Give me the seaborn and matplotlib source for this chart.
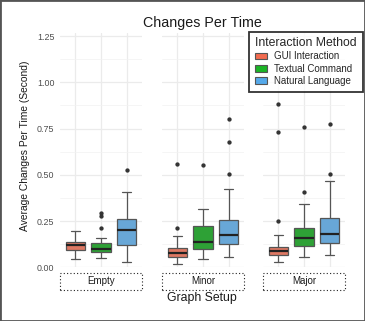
import pandas as pd
import matplotlib.pyplot as plt
import seaborn as sns
from matplotlib.patches import Rectangle, Patch

# ------------------------------------------------------------
# Dados
# ------------------------------------------------------------
setups = ["Empty", "Minor", "Major"]
methods = ["GUI Interaction", "Textual Command", "Natural Language"]
colors = ["#F26B4F", "#1BB426", "#55A9EA"]

empty_gui = [0.045, 0.07, 0.092, 0.105, 0.119, 0.13, 0.138, 0.16, 0.198]
empty_text = [0.049, 0.062, 0.075, 0.080, 0.085, 0.09, 0.094, 0.097, 0.099,
              0.105, 0.115, 0.125, 0.132, 0.16, 0.212, 0.277, 0.292]
empty_nl = [0.03, 0.08, 0.122, 0.165, 0.20, 0.235, 0.263, 0.405, 0.524]

minor_gui = [0.02, 0.04, 0.05, 0.057, 0.065, 0.072, 0.079, 0.088, 0.096,
             0.104, 0.169, 0.214, 0.558]
minor_text = [0.047, 0.075, 0.097, 0.115, 0.135, 0.18, 0.223, 0.313, 0.555]
minor_nl = [0.054, 0.08, 0.10, 0.115, 0.124, 0.14, 0.155, 0.165, 0.175,
            0.20, 0.225, 0.24, 0.254, 0.421, 0.504, 0.676, 0.80]

major_gui = [0.03, 0.045, 0.055, 0.062, 0.066, 0.072, 0.078, 0.084, 0.088,
             0.094, 0.10, 0.106, 0.111, 0.173, 0.25, 0.733, 0.883]
major_text = [0.057, 0.085, 0.10, 0.115, 0.13, 0.145, 0.157, 0.175, 0.195,
              0.212, 0.342, 0.409, 0.757]
major_nl = [0.066, 0.095, 0.115, 0.131, 0.15, 0.165, 0.18, 0.21, 0.24,
            0.268, 0.466, 0.506, 0.775]

grupos = {
    "Empty": [empty_gui, empty_text, empty_nl],
    "Minor": [minor_gui, minor_text, minor_nl],
    "Major": [major_gui, major_text, major_nl],
}

linhas = []
for setup in setups:
    for metodo, valores in zip(methods, grupos[setup]):
        for v in valores:
            linhas.append({"setup": setup, "method": metodo, "value": v})
df = pd.DataFrame(linhas)

# ------------------------------------------------------------
# Figura
# ------------------------------------------------------------
sns.set_style("white")
plt.rcParams["font.family"] = ["Liberation Sans", "DejaVu Sans"]

W, H = 365, 321
fig = plt.figure(figsize=(W / 100, H / 100), dpi=100)

lefts = [60, 162, 263]
pw = 82
y_top, y_bot = 33.3, 267.3
palette = dict(zip(methods, colors))

for i, setup in enumerate(setups):
    ax = fig.add_axes([lefts[i] / W, 1 - y_bot / H, pw / W, (y_bot - y_top) / H])
    sub = df[df["setup"] == setup]
    sns.boxplot(data=sub, x="method", y="value", hue="method", order=methods,
                hue_order=methods, palette=palette, width=0.75, linewidth=0.9,
                linecolor="#555555", legend=False, ax=ax,
                medianprops=dict(color="#222222", linewidth=1.6),
                flierprops=dict(marker="o", markersize=2.1, markerfacecolor="#333333",
                                markeredgecolor="#333333"))
    ax.set_xlim(-0.6, 2.6)
    ax.set_ylim(0, 1.265)
    ax.set_yticks([0, 0.25, 0.5, 0.75, 1.0, 1.25])
    ax.set_yticks([0.125, 0.375, 0.625, 0.875, 1.125], minor=True)
    ax.grid(True, which="major", color="#EBEBEB", linewidth=0.9, zorder=0)
    ax.grid(True, which="minor", axis="y", color="#F2F2F2", linewidth=0.5, zorder=0)
    ax.set_axisbelow(True)
    for s in ax.spines.values():
        s.set_visible(False)
    ax.set_xticklabels([])
    ax.set_xlabel("")
    ax.set_ylabel("")
    ax.tick_params(length=0, which="both")
    if i == 0:
        ax.set_yticklabels(["0.00", "0.25", "0.50", "0.75", "1.00", "1.25"],
                           fontsize=6.4, color="#4D4D4D")
        ax.tick_params(axis="y", pad=4)
    else:
        ax.set_yticklabels([])

    # faixa inferior com borda pontilhada
    sh = 17 / (y_bot - y_top)
    gap = 5.7 / (y_bot - y_top)
    ax.add_patch(Rectangle((0, -gap - sh), 1, sh, transform=ax.transAxes,
                           fill=False, edgecolor="#222222", linewidth=0.8,
                           linestyle=(0, (1, 2)), clip_on=False))
    ax.text(0.5, -gap - sh / 2, setup, transform=ax.transAxes, ha="center",
            va="center", fontsize=7.0, color="#1A1A1A")

fig.text(202 / W, 1 - 23 / H, "Changes Per Time", ha="center", va="center",
         fontsize=10.3, color="#1A1A1A")
fig.text(202 / W, 1 - 297.5 / H, "Graph Setup", ha="center", va="center",
         fontsize=8.8, color="#1A1A1A")
fig.text(25 / W, 1 - 146 / H, "Average Changes Per Time (Second)", ha="center",
         va="center", rotation=90, fontsize=7.4, color="#1A1A1A")

handles = [Patch(facecolor=c, edgecolor="#555555", linewidth=0.8) for c in colors]
leg = fig.legend(handles, methods, title="Interaction Method", loc="upper right",
                 bbox_to_anchor=(362.5 / W, 1 - 31.5 / H), fontsize=7.0,
                 title_fontsize=8.8, frameon=True, fancybox=False,
                 handlelength=1.2, handleheight=0.7, handletextpad=0.8,
                 labelspacing=0.22, borderpad=0.6, borderaxespad=0,
                 alignment="left")
leg.get_frame().set_edgecolor("black")
leg.get_frame().set_linewidth(1.3)

fig.patches.append(Rectangle((0, 0), 1, 1, transform=fig.transFigure, fill=False,
                             edgecolor="#555555", linewidth=2.0))

fig.savefig("out.png", dpi=100)
